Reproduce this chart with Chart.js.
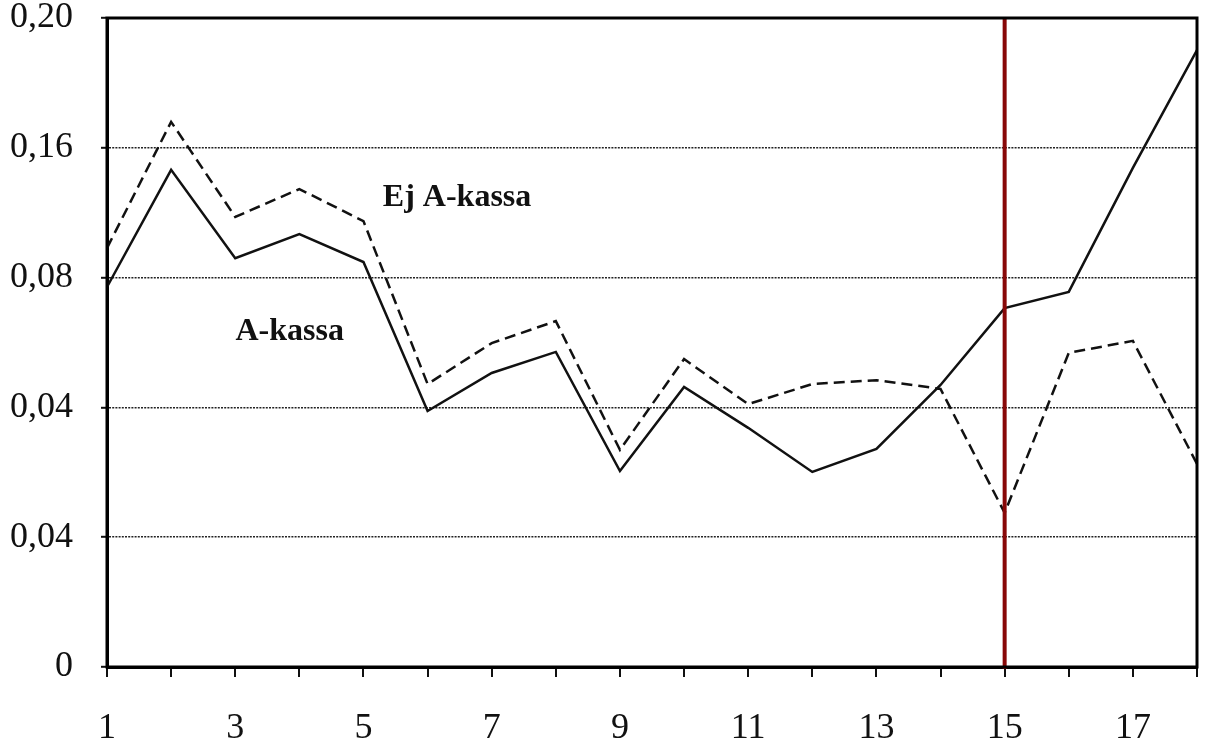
<!DOCTYPE html>
<html>
<head>
<meta charset="utf-8">
<script src="https://cdn.jsdelivr.net/npm/chart.js@4.4.1/dist/chart.umd.min.js"></script>
<style>
html,body{margin:0;padding:0;background:#fff;}
#wrap{width:1208px;height:753px;}
</style>
</head>
<body>
<div id="wrap"><canvas id="c" width="1208" height="753"></canvas></div>
<script>
// ---- data ----
const categories = [1,2,3,4,5,6,7,8,9,10,11,12,13,14,15,16,17,18];
const aKassa   = [0.1171,0.1532,0.1260,0.1334,0.1248,0.0789,0.0906,0.0971,0.0604,0.0863,0.0737,0.0601,0.0672,0.0869,0.1106,0.1156,0.1538,0.1901];
const ejAKassa = [0.1291,0.1680,0.1387,0.1473,0.1374,0.0872,0.0998,0.1066,0.0669,0.0949,0.0810,0.0872,0.0884,0.0857,0.0475,0.0968,0.1005,0.0626];
const yTickValues = [0,0.04,0.08,0.12,0.16,0.20];
const yTickLabels = ["0","0,04","0,04","0,08","0,16","0,20"];
const xTickLabels = ["1","","3","","5","","7","","9","","11","","13","","15","","17",""];
const markerX = 15;
const seriesLabels = [
  {text:"Ej A-kassa", x:6.46, y:0.1445},
  {text:"A-kassa",    x:3.85, y:0.1032}
];

const toPts = arr => categories.map((c,i)=>({x:c,y:arr[i]}));

const overlay = {
  id:'overlay',
  afterDatasetsDraw(chart){
    const {ctx, chartArea:a, scales:{x,y}} = chart;
    ctx.save();
    ctx.fillStyle = '#111';
    ctx.font = 'bold 32px "Liberation Serif", serif';
    ctx.textAlign = 'center';
    ctx.textBaseline = 'middle';
    seriesLabels.forEach(l=>{
      ctx.fillText(l.text, x.getPixelForValue(l.x), y.getPixelForValue(l.y));
    });
    const px = x.getPixelForValue(markerX);
    ctx.strokeStyle = '#880808';
    ctx.lineWidth = 4;
    ctx.beginPath();
    ctx.moveTo(px, a.top);
    ctx.lineTo(px, a.bottom + 2);
    ctx.stroke();
    ctx.strokeStyle = '#000';
    ctx.lineWidth = 3;
    ctx.strokeRect(a.left, a.top, a.right - a.left, a.bottom - a.top);
    ctx.restore();
  }
};

new Chart(document.getElementById('c'), {
  type:'line',
  data:{
    datasets:[
      {label:'A-kassa', data:toPts(aKassa), borderColor:'#111', borderWidth:2.5, pointRadius:0, tension:0, fill:false},
      {label:'Ej A-kassa', data:toPts(ejAKassa), borderColor:'#111', borderWidth:2.5, borderDash:[11,6], pointRadius:0, tension:0, fill:false}
    ]
  },
  options:{
    responsive:false,
    animation:false,
    devicePixelRatio:1,
    layout:{padding:{top:18,right:11,left:0,bottom:0}},
    plugins:{legend:{display:false}, tooltip:{enabled:false}},
    scales:{
      x:{
        type:'linear', min:1, max:18,
        afterBuildTicks(s){ s.ticks = categories.map(v=>({value:v})); },
        afterFit(s){ s.height = 86; s.paddingLeft = 0; s.paddingRight = 0; },
        ticks:{
          autoSkip:false, maxRotation:0, padding:30,
          color:'#111',
          font:{family:'"Liberation Serif", serif', size:36},
          callback:(v)=>xTickLabels[categories.indexOf(v)] ?? ''
        },
        grid:{drawOnChartArea:false, drawTicks:true, tickLength:10, color:'#111', lineWidth:2},
        border:{display:true, color:'#000', width:3}
      },
      y:{
        type:'linear', min:0, max:0.2,
        afterBuildTicks(s){ s.ticks = yTickValues.map(v=>({value:v})); },
        afterFit(s){ s.width = 107; s.paddingTop = 0; s.paddingBottom = 0; },
        ticks:{
          autoSkip:false, padding:28,
          color:'#111',
          font:{family:'"Liberation Serif", serif', size:36},
          callback:(v)=>{ const i = yTickValues.findIndex(t=>Math.abs(t-v)<1e-9); return i>=0 ? yTickLabels[i] : ''; }
        },
        grid:{color:'#222', lineWidth:1.6, tickLength:6, tickColor:'#111', tickWidth:2},
        border:{display:true, color:'#000', width:3, dash:[2,1.2]}
      }
    }
  },
  plugins:[overlay]
});
</script>
</body>
</html>
